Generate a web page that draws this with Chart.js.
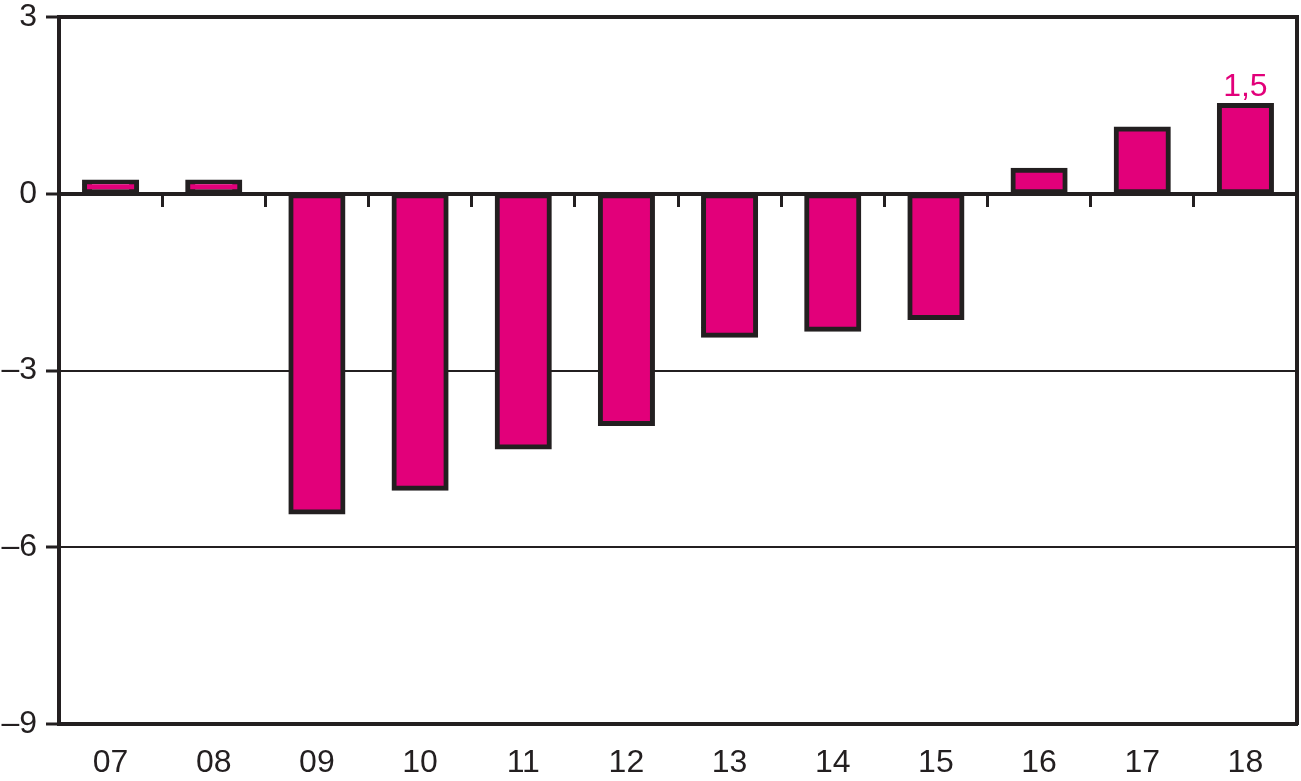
<!DOCTYPE html>
<html>
<head>
<meta charset="utf-8">
<script src="https://cdn.jsdelivr.net/npm/chart.js@4/dist/chart.umd.min.js"></script>
<style>
	html, body { margin: 0; padding: 0; background: #fff; }
	#wrap { width: 1301px; height: 781px; }
</style>
</head>
<body>
<div id="wrap"><canvas id="myChart"></canvas></div>
<script>
/* globals Chart:false */
const years = ['07', '08', '09', '10', '11', '12', '13', '14', '15', '16', '17', '18'];
const values = [0.2, 0.2, -5.4, -5.0, -4.3, -3.9, -2.4, -2.3, -2.1, 0.4, 1.1, 1.5];
const yTicks = [3, 0, -3, -6, -9];
const labelledYear = '18';

const ink = '#231f20';
const magenta = '#e2007a';
const font = { family: '"Liberation Sans", Arial, sans-serif', size: 32 };

// draws the "1,5" value above the last bar
const valueLabel = {
	id: 'valueLabel',
	afterDatasetsDraw(chart) {
		const ctx = chart.ctx;
		const meta = chart.getDatasetMeta(0);
		const i = years.indexOf(labelledYear);
		const bar = meta.data[i];
		ctx.save();
		ctx.fillStyle = magenta;
		ctx.font = `${font.size}px ${font.family}`;
		ctx.textAlign = 'center';
		ctx.textBaseline = 'alphabetic';
		ctx.fillText(String(values[i]).replace('.', ','), bar.x, bar.y - 9);
		ctx.restore();
	}
};

const ctx = document.getElementById('myChart');
const myChart = new Chart(ctx, {
	type: 'bar',
	data: {
		labels: years,
		datasets: [{
			data: values,
			backgroundColor: magenta,
			borderColor: ink,
			borderWidth: 5,
			borderSkipped: false,
			inflateAmount: 2.5,
			barPercentage: 0.505,
			categoryPercentage: 1
		}]
	},
	options: {
		responsive: true,
		maintainAspectRatio: false,
		animation: false,
		layout: { padding: { left: 0, top: 17, right: 4, bottom: 0 } },
		plugins: {
			legend: { display: false },
			tooltip: { enabled: false }
		},
		scales: {
			x: {
				type: 'category',
				offset: true,
				grid: { display: false },
				border: { display: true, color: ink, width: 4 },
				ticks: { color: ink, font: font, padding: 12, maxRotation: 0 },
				afterFit(scale) { scale.height = 57; }
			},
			// tick marks hanging from the zero line
			x2: {
				type: 'category',
				position: { y: 0 },
				offset: true,
				grid: { offset: true, drawOnChartArea: false, drawTicks: true, tickLength: 11, lineWidth: 3, color: ink },
				border: { display: true, color: ink, width: 4 },
				ticks: { display: false }
			},
			y: {
				min: -9,
				max: 3,
				afterBuildTicks(scale) { scale.ticks = yTicks.map(v => ({ value: v })); },
				grid: {
					color: ink,
					lineWidth: c => (c.tick && (c.tick.value === -3 || c.tick.value === -6)) ? 2 : 4,
					tickLength: 13,
					tickWidth: 3
				},
				border: { display: true, color: ink, width: 4 },
				ticks: {
					color: ink,
					font: font,
					padding: 9,
					callback: v => (v < 0 ? '\u2013' + Math.abs(v) : String(v))
				},
				afterFit(scale) {
					scale.width = 59;
					scale.paddingTop = 0;
					scale.paddingBottom = 0;
				}
			},
			y2: {
				position: 'right',
				min: -9,
				max: 3,
				grid: { display: false },
				border: { display: true, color: ink, width: 4 },
				ticks: { display: false },
				afterFit(scale) {
					scale.width = 0;
					scale.paddingTop = 0;
					scale.paddingBottom = 0;
				}
			}
		}
	},
	plugins: [valueLabel]
});
</script>
</body>
</html>
